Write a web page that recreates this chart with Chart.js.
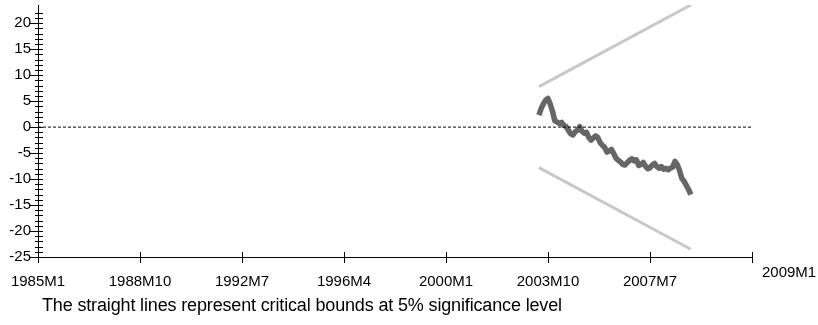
<!DOCTYPE html>
<html>
<head>
<meta charset="utf-8">
<script src="https://cdn.jsdelivr.net/npm/chart.js@4.4.1/dist/chart.umd.min.js"></script>
<style>
  body { margin: 0; background: #fff; }
</style>
</head>
<body>
<canvas id="myChart" width="818" height="325"></canvas>
<script>
// x axis: months counted from 1985M1, a tick every 45 months
var xTickLabels = ['1985M1', '1988M10', '1992M7', '1996M4', '2000M1', '2003M10', '2007M7', ''];
var endLabel = '2009M1';

// CUSUM of recursive residuals, monthly from 2003M6 to 2009M1
var cusumStart = '2003M6';
var cusum = [2.3, 3.6, 4.5, 5.2, 5.5, 4.4, 3.0, 1.2, 1.0, 0.7,
  0.9, 0.3, 0.1, -0.6, -1.3, -1.5, -0.9, -0.6, 0.1, -0.8,
  -1.2, -1.0, -2.0, -2.5, -2.1, -1.7, -2.0, -3.0, -3.5, -3.9,
  -4.8, -4.6, -4.3, -5.1, -6.0, -6.4, -6.7, -7.2, -7.3, -6.8,
  -6.4, -6.1, -6.5, -6.3, -7.4, -7.2, -6.8, -7.5, -8.0, -7.8,
  -7.3, -7.0, -7.6, -7.9, -7.6, -8.1, -7.9, -8.2, -7.9, -7.7,
  -6.6, -7.2, -8.3, -9.8, -10.4, -11.2, -12.0, -13.0];

// 5% critical bounds (straight lines)
var boundMonths = ['2003M6', '2009M1'];
var upperBound = [7.8, 23.5];
var lowerBound = [-7.8, -23.5];

var note = 'The straight lines represent critical bounds at 5% significance level';

function monthIndex(s) {
  var p = s.split('M');
  return (parseInt(p[0]) - 1985) * 12 + parseInt(p[1]) - 1;
}

var cusumPts = [];
var s0 = monthIndex(cusumStart);
for (var i = 0; i < cusum.length; i++) {
  cusumPts.push({x: s0 + i, y: cusum[i]});
}
var upperPts = [], lowerPts = [];
for (var j = 0; j < boundMonths.length; j++) {
  upperPts.push({x: monthIndex(boundMonths[j]), y: upperBound[j]});
  lowerPts.push({x: monthIndex(boundMonths[j]), y: lowerBound[j]});
}
var xMax = 45 * (xTickLabels.length - 1);
var zeroPts = [{x: 0, y: 0}, {x: xMax, y: 0}];

var fontFam = '"Liberation Sans", Arial, sans-serif';

// axis lines, cross ticks and extra texts
var axisPlugin = {
  id: 'axisPlugin',
  afterDraw: function (chart) {
    var ctx = chart.ctx;
    var xs = chart.scales.x, ys = chart.scales.y;
    var a = chart.chartArea;
    ctx.save();
    ctx.strokeStyle = '#000';
    ctx.lineWidth = 1;
    ctx.beginPath();
    ctx.moveTo(a.left + 0.5, a.top);
    ctx.lineTo(a.left + 0.5, a.bottom + 0.5);
    ctx.lineTo(a.right, a.bottom + 0.5);
    ys.ticks.forEach(function (t) {
      if (t.value % 1 != 0) return;
      var y = Math.round(ys.getPixelForValue(t.value)) + 0.5;
      var major = t.value % 5 == 0;
      ctx.moveTo(a.left - (major ? 8 : 3), y);
      ctx.lineTo(a.left + 5, y);
    });
    xs.ticks.forEach(function (t) {
      var x = Math.round(xs.getPixelForValue(t.value)) + 0.5;
      ctx.moveTo(x, a.bottom - 5);
      ctx.lineTo(x, a.bottom + 6);
    });
    ctx.stroke();

    ctx.fillStyle = '#000';
    ctx.font = '15px ' + fontFam;
    ctx.textAlign = 'left';
    ctx.textBaseline = 'alphabetic';
    ctx.fillText(endLabel, a.right + 10, 277);
    ctx.font = '18px ' + fontFam;
    ctx.letterSpacing = '-0.15px';
    ctx.fillText(note, 42, 311);
    ctx.restore();
  }
};

new Chart(document.getElementById('myChart'), {
  type: 'line',
  data: {
    datasets: [
      {data: zeroPts, borderColor: '#000', borderWidth: 1, borderDash: [3, 2], pointRadius: 0},
      {data: upperPts, borderColor: '#c8c8c8', borderWidth: 3, pointRadius: 0},
      {data: lowerPts, borderColor: '#c8c8c8', borderWidth: 3, pointRadius: 0},
      {data: cusumPts, borderColor: '#666666', borderWidth: 5.5, pointRadius: 0, borderJoinStyle: 'round'}
    ]
  },
  options: {
    responsive: false,
    animation: false,
    devicePixelRatio: 1,
    layout: {padding: {left: 0, right: 66, top: 5, bottom: 0}},
    plugins: {legend: {display: false}, tooltip: {enabled: false}},
    scales: {
      x: {
        type: 'linear',
        min: 0,
        max: xMax,
        grid: {display: false},
        border: {display: false},
        afterFit: function (s) { s.height = 68; s.paddingLeft = 0; s.paddingRight = 0; },
        ticks: {
          stepSize: 45,
          autoSkip: false,
          maxRotation: 0,
          padding: 8,
          color: '#000',
          font: {family: fontFam, size: 15},
          callback: function (v) { return xTickLabels[Math.round(v / 45)]; }
        }
      },
      y: {
        min: -25,
        max: 23.5,
        grid: {display: false, drawTicks: false},
        border: {display: false},
        afterFit: function (s) { s.width = 38; s.paddingTop = 0; s.paddingBottom = 0; },
        ticks: {
          stepSize: 1,
          autoSkip: false,
          padding: 7,
          color: '#000',
          font: {family: fontFam, size: 15},
          callback: function (v) { return v % 5 == 0 ? String(v) : ''; }
        }
      }
    }
  },
  plugins: [axisPlugin]
});
</script>
</body>
</html>
